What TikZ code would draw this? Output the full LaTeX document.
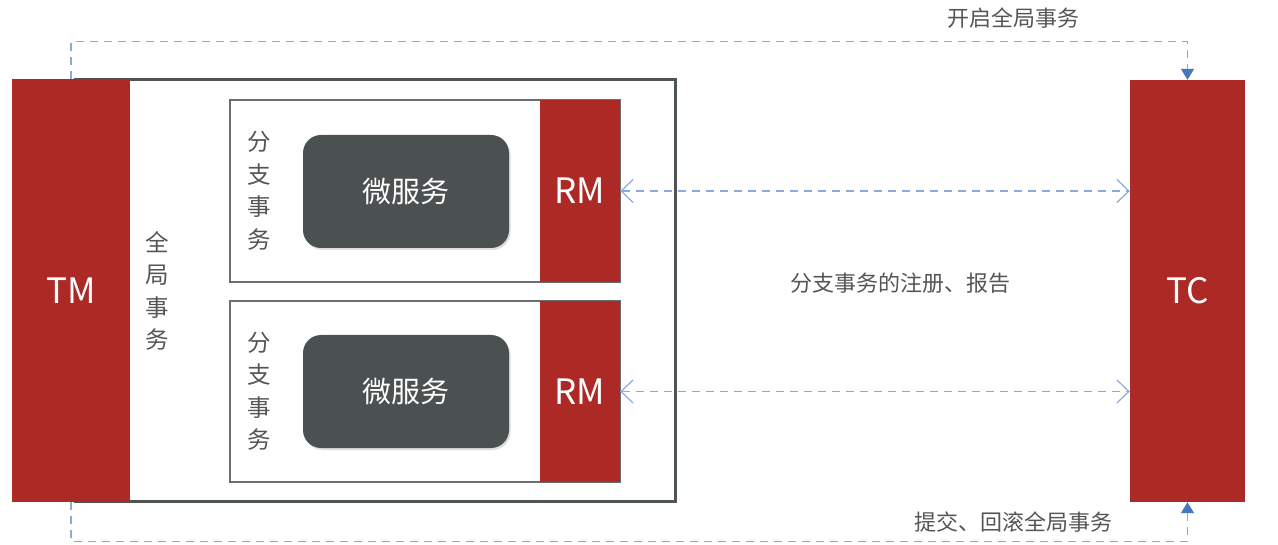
\documentclass[tikz,border=0pt]{standalone}
\usepackage{fontspec}
\setmainfont{Noto Sans CJK SC}
\usetikzlibrary{arrows.meta,shadows}
\definecolor{tred}{HTML}{AC2925}
\definecolor{tdark}{HTML}{4B5050}
\definecolor{tborder}{HTML}{4F5555}
\definecolor{tinner}{HTML}{6A6E6E}
\definecolor{tdash}{RGB}{135,172,220}
\definecolor{thead}{RGB}{70,120,190}
\definecolor{ttext}{HTML}{555555}
\tikzset{
  redbox/.style={fill=tred, draw=none, text=white, inner sep=0pt, font=\fontsize{35}{40}\selectfont},
  innerbox/.style={draw=tinner, line width=1.8pt, inner sep=0pt},
  microbox/.style={fill=tdark, draw=none, rounded corners=18pt, text=white, inner sep=0pt,
    font=\fontsize{29}{32}\selectfont, drop shadow={shadow xshift=1.5pt, shadow yshift=-2pt, opacity=0.25}},
  vlabel/.style={text=ttext, align=center, inner sep=0pt, font=\fontsize{23.5}{32.5}\selectfont},
  lbl/.style={text=ttext, inner sep=0pt, font=\fontsize{22}{25}\selectfont},
  dashline/.style={draw=tdash, line width=1.4pt, dash pattern=on 8pt off 6pt},
  openhead/.style={dashline, {Straight Barb[length=12pt,width=23pt,line width=1.2pt]}-{Straight Barb[length=12pt,width=23pt,line width=1.2pt]}},
  filledhead/.style={dashline, -{Triangle[length=11pt,width=13pt,fill=thead,color=thead]}}
}
\begin{document}
\begin{tikzpicture}[x=1pt,y=-1pt]
\useasboundingbox (0,0) rectangle (1278,545);
% outer global transaction box
\node[draw=tborder, line width=3pt, minimum width=600pt, minimum height=421pt, inner sep=0pt] (outer) at (375,290.5) {};
% TM
\node[redbox, minimum width=118pt, minimum height=423pt] (TM) at (71,290.5) {TM};
\node[vlabel] (glob) at (157,291) {全\\局\\事\\务};
% branch 1
\node[innerbox, minimum width=390pt, minimum height=182pt] (b1) at (425,191) {};
\node[redbox, minimum width=80pt, minimum height=182pt] (rm1) at (580,191) {RM};
\node[vlabel] (bl1) at (259,191) {分\\支\\事\\务};
\node[microbox, minimum width=206pt, minimum height=113pt] (ms1) at (406,191.5) {微服务};
% branch 2
\node[innerbox, minimum width=390pt, minimum height=181pt] (b2) at (425,391.5) {};
\node[redbox, minimum width=80pt, minimum height=181pt] (rm2) at (580,391.5) {RM};
\node[vlabel] (bl2) at (259,391.5) {分\\支\\事\\务};
\node[microbox, minimum width=206pt, minimum height=113pt] (ms2) at (406,391.5) {微服务};
% TC
\node[redbox, minimum width=115pt, minimum height=422pt] (TC) at (1187.5,291) {TC};
% connectors
\draw[filledhead] (TM.north) -- ++(0,-37) -| (TC.north);
\draw[filledhead] (TM.south) -- ++(0,39) -| (TC.south);
\draw[openhead] (rm1.east) -- (rm1.east -| TC.west);
\draw[openhead] (rm2.east) -- (rm2.east -| TC.west);
% labels
\node[lbl] (l1) at (1013,18) {开启全局事务};
\node[lbl] (l2) at (1013,522) {提交、回滚全局事务};
\node[lbl] (l3) at (900,283) {分支事务的注册、报告};
\end{tikzpicture}
\end{document}
